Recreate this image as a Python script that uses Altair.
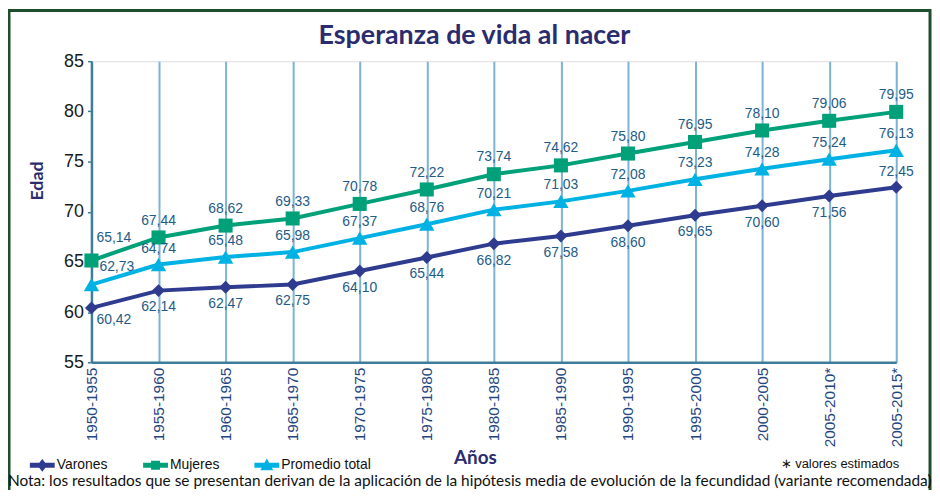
import altair as alt
import pandas as pd

periodos = ["1950-1955", "1955-1960", "1960-1965", "1965-1970", "1970-1975",
            "1975-1980", "1980-1985", "1985-1990", "1990-1995", "1995-2000",
            "2000-2005", "2005-2010*", "2005-2015*"]
varones = [60.42, 62.14, 62.47, 62.75, 64.10, 65.44, 66.82, 67.58, 68.60, 69.65, 70.60, 71.56, 72.45]
mujeres = [65.14, 67.44, 68.62, 69.33, 70.78, 72.22, 73.74, 74.62, 75.80, 76.95, 78.10, 79.06, 79.95]
promedio = [62.73, 64.74, 65.48, 65.98, 67.37, 68.76, 70.21, 71.03, 72.08, 73.23, 74.28, 75.24, 76.13]
series = ["Varones", "Mujeres", "Promedio total"]
colores = ["#2f3b8f", "#00a079", "#00b2e3"]
y_ticks = [55, 60, 65, 70, 75, 80, 85]

titulo = "Esperanza de vida al nacer"
nota = ("Nota: los resultados que se presentan derivan de la aplicación de la hipótesis "
        "media de evolución de la fecundidad (variante recomendada)")
asterisco = "∗ valores estimados"

rows = []
for serie, vals in zip(series, [varones, mujeres, promedio]):
    for i, (p, v) in enumerate(zip(periodos, vals)):
        rows.append({"serie": serie, "periodo": p, "idx": i, "valor": v,
                     "etiqueta": f"{v:.2f}".replace(".", ",")})
df = pd.DataFrame(rows)
last = len(periodos) - 1

NAVY = "#2b2c6e"
FRAME = "#3e7c9b"
LABEL = "#235b87"

x_enc = alt.X("periodo:N", sort=periodos,
              scale=alt.Scale(type="point", padding=0),
              axis=alt.Axis(title="Años", labelAngle=270, labelAlign="right",
                            labelBaseline="middle", labelFontSize=15.5,
                            labelColor="#24467f", labelFont="Liberation Sans",
                            labelPadding=5, ticks=False, domainColor=FRAME,
                            domainWidth=2.5, grid=True, gridColor="#7db2d2",
                            gridWidth=2, gridOpacity=1, titleFont="Lato",
                            titleFontWeight="bold", titleFontSize=19,
                            titleColor=NAVY, titleX=386, titleY=96,
                            titleAlign="center", titleBaseline="middle"))
y_enc = alt.Y("valor:Q",
              scale=alt.Scale(domain=[55, 85], nice=False, zero=False),
              axis=alt.Axis(values=y_ticks, title="Edad", labelFontSize=18,
                            labelColor="#1a1a1a", labelFont="Liberation Sans",
                            labelPadding=4, tickColor=FRAME, tickSize=4,
                            tickWidth=1.5, domainColor=FRAME, domainWidth=2.5,
                            grid=False, titleFont="Lato", titleFontWeight="bold",
                            titleFontSize=18, titleColor=NAVY, titleAngle=270,
                            titleX=-54, titleY=120, titleAlign="center",
                            titleBaseline="middle"))

base = alt.Chart(df).encode(x=x_enc, y=y_enc)
color_scale = alt.Scale(domain=series, range=colores)

bar = "M-1,-0.2H1V0.2H-1Z"
shape_sig = (f"datum.value == 'Varones' ? '{bar}M0,-0.52L0.4,0L0,0.52L-0.4,0Z' : "
             f"datum.value == 'Mujeres' ? '{bar}M-0.36,-0.36H0.36V0.36H-0.36Z' : "
             f"'{bar}M0,-0.56L0.52,0.4L-0.52,0.4Z'")
fill_sig = (f"datum.value == 'Varones' ? '{colores[0]}' : "
            f"datum.value == 'Mujeres' ? '{colores[1]}' : '{colores[2]}'")

legend = alt.Legend(title=None, orient="none", legendX=-62, legendY=394,
                    direction="horizontal", columnPadding=35, labelFontSize=14,
                    labelFont="Liberation Sans", labelColor="#111111",
                    symbolSize=625, labelOffset=2,
                    symbolType=alt.ExprRef(expr=shape_sig),
                    symbolFillColor=alt.ExprRef(expr=fill_sig),
                    symbolStrokeColor="transparent",
                    symbolStrokeWidth=0, symbolOpacity=1)

color_enc = alt.Color("serie:N", scale=color_scale, legend=legend)

lines = base.mark_line(strokeWidth=4).encode(color=color_enc)

shapes = {"Varones": ("diamond", 170), "Mujeres": ("square", 200),
          "Promedio total": ("triangle-up", 240)}
point_layers = []
for s in series:
    sh, sz = shapes[s]
    point_layers.append(
        base.transform_filter(alt.datum.serie == s)
        .mark_point(filled=True, shape=sh, size=sz, opacity=1)
        .encode(color=color_enc)
    )

txt = dict(fontSize=14, font="Liberation Sans", color=LABEL)
label_layers = [
    base.transform_filter((alt.datum.serie == "Mujeres") & (alt.datum.idx > 0))
        .mark_text(dy=-17, **txt).encode(text="etiqueta:N"),
    base.transform_filter((alt.datum.serie == "Mujeres") & (alt.datum.idx == 0))
        .mark_text(dx=5, dy=-23, align="left", **txt).encode(text="etiqueta:N"),
    base.transform_filter((alt.datum.serie == "Promedio total") & (alt.datum.idx > 0))
        .mark_text(dy=-16, **txt).encode(text="etiqueta:N"),
    base.transform_filter((alt.datum.serie == "Promedio total") & (alt.datum.idx == 0))
        .mark_text(dx=8, dy=-18, align="left", **txt).encode(text="etiqueta:N"),
    base.transform_filter((alt.datum.serie == "Varones") & (alt.datum.idx > 0) & (alt.datum.idx < last))
        .mark_text(dy=17, **txt).encode(text="etiqueta:N"),
    base.transform_filter((alt.datum.serie == "Varones") & (alt.datum.idx == 0))
        .mark_text(dx=5, dy=12, align="left", **txt).encode(text="etiqueta:N"),
    base.transform_filter((alt.datum.serie == "Varones") & (alt.datum.idx == last))
        .mark_text(dy=-15, **txt).encode(text="etiqueta:N"),
]

deco = pd.DataFrame({"nota": [nota], "ast": [asterisco], "tit": [titulo]})
title_layer = alt.Chart(deco).mark_text(align="center", baseline="alphabetic", fontSize=27,
                                        font="Lato", fontWeight="bold", color=NAVY).encode(
    text="tit:N", x=alt.value(385.5), y=alt.value(-17))
nota_layer = alt.Chart(deco).mark_text(align="left", baseline="middle", fontSize=15.5,
                                       font="Lato", color="#111111").encode(
    text="nota:N", x=alt.value(-84), y=alt.value(423))
ast_layer = alt.Chart(deco).mark_text(align="right", baseline="middle", fontSize=13,
                                      font="Liberation Sans", color="#111111").encode(
    text="ast:N", x=alt.value(813), y=alt.value(405))
border = alt.Chart(deco).mark_rect(fill="transparent", stroke="#1d4d2c", strokeWidth=3).encode(
    x=alt.value(-83), x2=alt.value(844), y=alt.value(-51), y2=alt.value(470))

chart = alt.layer(
    border, lines, *point_layers, *label_layers, title_layer, nota_layer, ast_layer
).properties(
    width=810, height=303,
    autosize=alt.AutoSizeParams(type="none"),
    padding={"left": 84, "top": 52, "right": 36, "bottom": 127},
).configure_view(stroke=FRAME, strokeWidth=2.5).configure(background="white")

chart.save("out.html", embed_options={"renderer": "svg", "actions": False})
